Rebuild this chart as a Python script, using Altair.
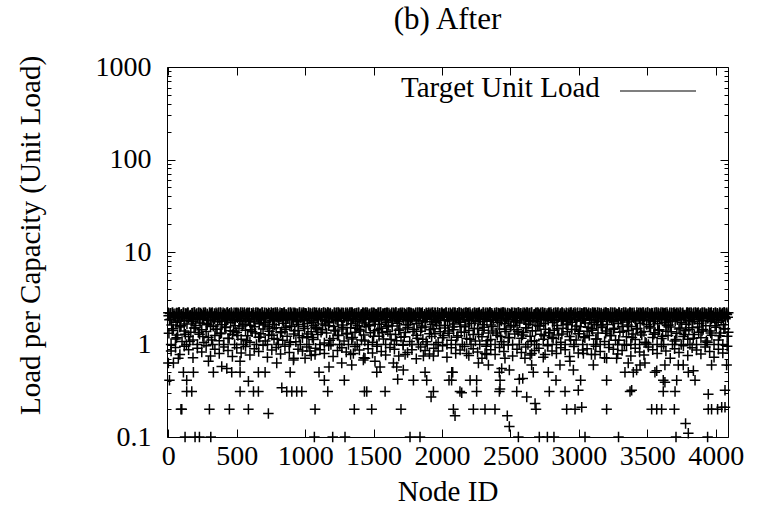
import altair as alt
import pandas as pd

FONT = "Liberation Serif"

# ---------------- data ----------------
# dense band of per-node loads just under the target (node id = 16*i)
band_top = [
    2.20, 2.18, 2.21, 2.15, 2.19, 2.22, 2.12, 2.20, 2.17, 2.21, 2.08, 2.19, 2.22, 2.16, 2.20, 2.13,
    2.21, 2.19, 2.05, 2.20, 2.22, 2.17, 2.14, 2.21, 2.19, 2.20, 2.10, 2.22, 2.18, 2.15, 2.21, 2.20,
    2.16, 2.22, 2.19, 2.11, 2.20, 2.21, 2.18, 2.07, 2.22, 2.19, 2.15, 2.20, 2.21, 2.13, 2.18, 2.22,
    2.19, 2.20, 2.14, 2.21, 2.17, 2.22, 2.09, 2.20, 2.19, 2.21, 2.16, 2.12, 2.22, 2.20, 2.18, 2.15,
    2.22, 2.17, 2.20, 2.19, 2.06, 2.21, 2.18, 2.22, 2.14, 2.20, 2.19, 2.11, 2.21, 2.22, 2.17, 2.20,
    2.18, 2.21, 2.13, 2.22, 2.20, 2.16, 2.19, 2.21, 2.08, 2.20, 2.22, 2.18, 2.15, 2.21, 2.19, 2.12,
    2.20, 2.22, 2.17, 2.19, 2.21, 2.10, 2.20, 2.18, 2.22, 2.16, 2.21, 2.19, 2.14, 2.20, 2.22, 2.18,
    2.15, 2.20, 2.21, 2.19, 2.22, 2.13, 2.18, 2.20, 2.21, 2.07, 2.19, 2.22, 2.17, 2.20, 2.16, 2.21,
    2.19, 2.12, 2.22, 2.20, 2.18, 2.21, 2.15, 2.19, 2.22, 2.20, 2.11, 2.17, 2.21, 2.19, 2.22, 2.14,
    2.21, 2.20, 2.16, 2.22, 2.09, 2.19, 2.21, 2.18, 2.20, 2.22, 2.15, 2.19, 2.13, 2.21, 2.20, 2.17,
    2.22, 2.18, 2.20, 2.14, 2.21, 2.19, 2.22, 2.10, 2.20, 2.17, 2.21, 2.22, 2.19, 2.16, 2.20, 2.12,
    2.19, 2.21, 2.22, 2.17, 2.20, 2.08, 2.18, 2.21, 2.22, 2.19, 2.14, 2.20, 2.21, 2.16, 2.22, 2.19,
    2.20, 2.15, 2.21, 2.19, 2.22, 2.18, 2.11, 2.20, 2.21, 2.17, 2.22, 2.19, 2.20, 2.13, 2.21, 2.18,
    2.22, 2.20, 2.17, 2.21, 2.19, 2.06, 2.22, 2.20, 2.16, 2.21, 2.19, 2.22, 2.15, 2.18, 2.20, 2.21,
    2.17, 2.22, 2.19, 2.20, 2.12, 2.21, 2.18, 2.22, 2.20, 2.15, 2.19, 2.21, 2.09, 2.22, 2.20, 2.18,
    2.21, 2.19, 2.22, 2.16, 2.20, 2.21, 2.14, 2.19, 2.22, 2.18, 2.20, 2.11, 2.21, 2.19, 2.22, 2.20,
]
# node id = 16*i + 12
band_top2 = [
    2.17, 2.21, 2.03, 2.19, 2.22, 2.10, 2.20, 2.15, 2.21, 1.98, 2.18, 2.22, 2.12, 2.20, 2.19, 2.06,
    2.22, 2.14, 2.20, 2.18, 2.01, 2.21, 2.19, 2.22, 2.09, 2.17, 2.20, 2.13, 2.22, 2.04, 2.19, 2.21,
    2.11, 2.20, 2.22, 2.16, 2.19, 2.02, 2.21, 2.18, 2.20, 2.14, 2.22, 1.97, 2.19, 2.21, 2.08, 2.17,
    2.20, 2.22, 2.05, 2.18, 2.21, 2.13, 2.19, 2.22, 2.00, 2.20, 2.16, 2.21, 2.10, 2.22, 2.18, 2.03,
    2.19, 2.12, 2.22, 2.20, 2.17, 2.07, 2.21, 2.19, 2.22, 2.15, 2.01, 2.20, 2.18, 2.22, 2.11, 2.21,
    2.04, 2.20, 2.19, 2.22, 2.13, 2.18, 2.21, 1.99, 2.20, 2.16, 2.22, 2.08, 2.19, 2.21, 2.14, 2.20,
    2.22, 2.06, 2.18, 2.21, 2.19, 2.12, 2.20, 2.22, 2.03, 2.17, 2.21, 2.19, 2.10, 2.22, 2.20, 2.15,
    2.09, 2.21, 2.22, 2.18, 2.02, 2.20, 2.19, 2.14, 2.22, 2.21, 2.07, 2.18, 2.20, 2.12, 2.22, 1.98,
    2.20, 2.17, 2.21, 2.05, 2.22, 2.19, 2.11, 2.20, 2.18, 2.22, 2.00, 2.21, 2.16, 2.19, 2.09, 2.22,
    2.13, 2.20, 2.22, 2.18, 2.04, 2.21, 2.19, 2.15, 2.22, 2.20, 2.08, 2.17, 2.21, 2.02, 2.19, 2.22,
    2.18, 2.10, 2.20, 2.22, 2.16, 2.21, 1.96, 2.19, 2.22, 2.13, 2.20, 2.18, 2.06, 2.21, 2.22, 2.11,
    2.21, 2.19, 2.04, 2.22, 2.17, 2.20, 2.14, 2.21, 2.09, 2.22, 2.19, 2.01, 2.18, 2.20, 2.22, 2.12,
    2.16, 2.22, 2.20, 2.08, 2.21, 2.19, 2.13, 2.22, 2.18, 2.03, 2.20, 2.21, 2.15, 2.22, 2.07, 2.19,
    2.20, 2.11, 2.22, 2.19, 2.21, 2.05, 2.18, 2.20, 2.22, 2.10, 2.21, 2.16, 2.19, 1.99, 2.22, 2.20,
    2.14, 2.21, 2.18, 2.22, 2.02, 2.20, 2.19, 2.12, 2.21, 2.22, 2.17, 2.06, 2.20, 2.19, 2.22, 2.13,
    2.22, 2.18, 2.09, 2.21, 2.20, 2.15, 2.22, 2.19, 2.03, 2.21, 2.18, 2.20, 2.11, 2.22, 2.16, 2.21,
]
# node id = 16*i + 2
band_fill = [
    2.05, 1.88, 2.12, 1.95, 1.80, 2.09, 1.99, 1.84, 2.14, 1.92, 2.02, 1.78, 2.07, 1.96, 1.86, 2.11,
    1.90, 2.04, 1.82, 2.13, 1.97, 1.87, 2.08, 1.93, 1.79, 2.10, 2.00, 1.85, 2.06, 1.94, 1.81, 2.12,
    1.98, 1.83, 2.09, 1.91, 2.03, 1.77, 2.14, 1.89, 2.01, 1.95, 1.84, 2.07, 1.96, 2.11, 1.80, 2.04,
    1.87, 2.13, 1.93, 2.00, 1.82, 2.08, 1.97, 1.90, 2.12, 1.85, 2.05, 1.79, 1.99, 2.10, 1.88, 2.02,
    2.09, 1.94, 1.81, 2.06, 1.92, 2.14, 1.86, 2.01, 1.98, 1.78, 2.11, 1.95, 2.04, 1.83, 2.08, 1.91,
    1.96, 2.12, 1.84, 2.03, 1.89, 2.07, 2.00, 1.80, 2.13, 1.93, 1.87, 2.10, 1.97, 2.05, 1.82, 2.09,
    1.90, 2.02, 2.14, 1.85, 1.99, 2.06, 1.79, 2.11, 1.94, 1.88, 2.04, 1.96, 2.12, 1.83, 2.01, 1.92,
    2.08, 1.86, 1.97, 2.13, 1.81, 2.05, 1.93, 2.10, 1.89, 2.00, 1.77, 2.07, 1.95, 2.14, 1.84, 2.03,
    1.98, 2.11, 1.87, 1.92, 2.06, 1.80, 2.12, 1.95, 2.02, 1.85, 2.09, 1.99, 1.82, 2.05, 1.91, 2.13,
    1.88, 2.00, 2.10, 1.83, 1.96, 2.07, 1.90, 2.14, 1.79, 2.04, 1.94, 1.86, 2.11, 1.98, 2.03, 1.81,
    2.12, 1.93, 2.01, 1.87, 2.08, 1.78, 1.97, 2.13, 1.92, 2.05, 1.84, 2.10, 1.89, 1.99, 2.06, 1.95,
    1.82, 2.09, 1.96, 2.14, 1.88, 2.02, 1.80, 2.07, 1.94, 2.11, 1.85, 2.00, 2.04, 1.91, 1.83, 2.12,
    2.03, 1.86, 2.10, 1.97, 1.79, 2.08, 1.93, 2.01, 1.88, 2.13, 1.95, 1.81, 2.06, 1.99, 2.11, 1.90,
    1.94, 2.05, 1.84, 2.12, 2.00, 1.87, 2.09, 1.92, 2.14, 1.82, 2.03, 1.96, 1.89, 2.07, 1.78, 2.10,
    2.01, 1.90, 2.13, 1.85, 2.06, 1.95, 1.80, 2.11, 1.98, 2.04, 1.86, 2.08, 1.93, 2.12, 1.83, 1.97,
    1.87, 2.09, 1.99, 2.02, 1.81, 2.14, 1.92, 2.05, 1.88, 1.96, 2.10, 1.84, 2.07, 1.94, 2.01, 2.11,
]
# node id = 16*i + 8
band_mid = [
    1.85, 1.62, 2.02, 1.74, 1.93, 1.58, 1.99, 1.81, 1.67, 2.05, 1.77, 1.90, 1.60, 1.96, 1.71, 1.88,
    2.08, 1.69, 1.83, 1.95, 1.57, 2.01, 1.76, 1.89, 1.64, 1.98, 1.80, 2.10, 1.72, 1.86, 1.59, 1.94,
    1.78, 2.03, 1.66, 1.91, 1.84, 1.61, 2.07, 1.75, 1.97, 1.68, 1.87, 2.00, 1.73, 1.56, 1.92, 1.82,
    1.63, 1.99, 1.79, 2.06, 1.70, 1.88, 1.95, 1.58, 1.84, 2.11, 1.76, 1.65, 1.93, 1.81, 2.04, 1.69,
    1.90, 1.74, 1.60, 2.02, 1.86, 1.97, 1.67, 1.83, 2.09, 1.72, 1.94, 1.57, 1.88, 1.79, 2.00, 1.62,
    1.96, 1.81, 2.05, 1.68, 1.91, 1.75, 1.59, 1.99, 1.85, 1.71, 2.08, 1.64, 1.92, 1.87, 1.77, 2.03,
    1.66, 1.89, 1.98, 1.73, 1.61, 2.01, 1.84, 1.95, 1.70, 1.78, 2.10, 1.86, 1.63, 1.93, 1.80, 1.97,
    2.04, 1.69, 1.82, 1.58, 1.94, 1.76, 2.07, 1.88, 1.65, 1.99, 1.72, 1.91, 1.83, 2.02, 1.60, 1.85,
    1.79, 2.06, 1.67, 1.92, 1.87, 1.74, 1.96, 1.56, 2.00, 1.81, 1.70, 1.95, 2.09, 1.77, 1.89, 1.64,
    1.93, 1.78, 2.03, 1.62, 1.86, 1.98, 1.73, 1.84, 2.11, 1.68, 1.90, 1.80, 1.59, 2.01, 1.75, 1.94,
    1.71, 1.97, 1.85, 2.05, 1.66, 1.82, 1.91, 1.77, 1.61, 2.08, 1.88, 1.69, 1.96, 1.83, 2.00, 1.73,
    1.87, 1.60, 1.99, 1.79, 1.93, 2.04, 1.67, 1.86, 1.74, 1.95, 1.58, 2.02, 1.81, 1.90, 1.71, 2.07,
    1.84, 1.96, 1.72, 1.63, 2.01, 1.89, 1.78, 2.09, 1.65, 1.92, 1.85, 1.76, 1.98, 1.69, 1.87, 1.82,
    2.06, 1.75, 1.90, 1.57, 1.94, 1.80, 2.03, 1.70, 1.88, 1.99, 1.64, 1.83, 2.10, 1.77, 1.91, 1.68,
    1.95, 1.86, 1.73, 2.00, 1.62, 1.89, 1.97, 1.79, 1.85, 2.05, 1.72, 1.93, 1.66, 1.81, 2.02, 1.76,
    1.88, 2.08, 1.69, 1.84, 1.96, 1.59, 1.92, 1.78, 2.04, 1.87, 1.74, 1.99, 1.83, 1.63, 1.90, 1.97,
]
# node id = 16*i + 4
band_low = [
    1.32, 1.00, 1.48, 1.15, 1.27, 1.55, 1.08, 1.40, 1.00, 1.22, 1.36, 1.12, 1.51, 1.00, 1.29, 1.44,
    1.05, 1.38, 1.19, 1.58, 1.00, 1.25, 1.46, 1.10, 1.33, 1.00, 1.53, 1.17, 1.41, 1.28, 1.00, 1.35,
    1.50, 1.14, 1.00, 1.43, 1.24, 1.06, 1.37, 1.56, 1.00, 1.20, 1.31, 1.47, 1.09, 1.00, 1.39, 1.26,
    1.16, 1.52, 1.00, 1.34, 1.11, 1.45, 1.23, 1.00, 1.57, 1.30, 1.07, 1.42, 1.00, 1.18, 1.49, 1.21,
    1.00, 1.37, 1.13, 1.54, 1.28, 1.00, 1.44, 1.04, 1.33, 1.59, 1.00, 1.16, 1.40, 1.25, 1.00, 1.47,
    1.09, 1.30, 1.00, 1.52, 1.19, 1.36, 1.00, 1.45, 1.12, 1.27, 1.56, 1.00, 1.34, 1.06, 1.41, 1.00,
    1.23, 1.50, 1.15, 1.00, 1.38, 1.29, 1.58, 1.00, 1.10, 1.43, 1.20, 1.00, 1.35, 1.53, 1.08, 1.00,
    1.46, 1.26, 1.00, 1.39, 1.14, 1.55, 1.00, 1.31, 1.22, 1.48, 1.00, 1.05, 1.37, 1.18, 1.51, 1.00,
    1.32, 1.11, 1.44, 1.00, 1.24, 1.57, 1.00, 1.36, 1.16, 1.42, 1.00, 1.28, 1.09, 1.49, 1.00, 1.21,
    1.54, 1.00, 1.33, 1.13, 1.40, 1.00, 1.26, 1.47, 1.07, 1.00, 1.38, 1.19, 1.55, 1.00, 1.30, 1.44,
    1.00, 1.17, 1.35, 1.52, 1.00, 1.23, 1.41, 1.10, 1.00, 1.58, 1.29, 1.14, 1.46, 1.00, 1.34, 1.20,
    1.43, 1.00, 1.27, 1.06, 1.50, 1.00, 1.37, 1.22, 1.45, 1.00, 1.12, 1.31, 1.56, 1.00, 1.18, 1.39,
    1.25, 1.48, 1.00, 1.15, 1.33, 1.00, 1.53, 1.08, 1.40, 1.00, 1.24, 1.46, 1.11, 1.00, 1.36, 1.57,
    1.00, 1.21, 1.42, 1.00, 1.30, 1.13, 1.49, 1.00, 1.27, 1.38, 1.04, 1.00, 1.51, 1.19, 1.34, 1.00,
    1.44, 1.16, 1.00, 1.39, 1.25, 1.55, 1.00, 1.09, 1.32, 1.47, 1.00, 1.22, 1.41, 1.14, 1.00, 1.52,
    1.28, 1.00, 1.36, 1.18, 1.45, 1.00, 1.06, 1.40, 1.26, 1.00, 1.54, 1.12, 1.33, 1.00, 1.48, 1.23,
]
# node id = 32*i + 28
band_low2 = [
    1.42, 1.18, 1.60, 1.29, 1.08, 1.51, 1.35, 1.22, 1.63, 1.12, 1.46, 1.31, 1.55, 1.16, 1.39, 1.25,
    1.58, 1.10, 1.44, 1.33, 1.20, 1.62, 1.27, 1.49, 1.14, 1.37, 1.53, 1.06, 1.41, 1.24, 1.57, 1.30,
    1.19, 1.48, 1.36, 1.61, 1.11, 1.43, 1.26, 1.54, 1.32, 1.15, 1.50, 1.40, 1.09, 1.59, 1.23, 1.45,
    1.34, 1.56, 1.13, 1.28, 1.47, 1.21, 1.64, 1.38, 1.17, 1.52, 1.07, 1.44, 1.31, 1.60, 1.25, 1.40,
    1.55, 1.20, 1.36, 1.62, 1.14, 1.49, 1.28, 1.43, 1.10, 1.57, 1.33, 1.22, 1.46, 1.18, 1.61, 1.37,
    1.27, 1.52, 1.08, 1.41, 1.59, 1.24, 1.35, 1.16, 1.48, 1.30, 1.63, 1.12, 1.45, 1.39, 1.21, 1.54,
    1.43, 1.15, 1.58, 1.32, 1.26, 1.50, 1.11, 1.38, 1.62, 1.19, 1.47, 1.34, 1.06, 1.56, 1.29, 1.42,
    1.23, 1.60, 1.37, 1.13, 1.51, 1.28, 1.45, 1.17, 1.55, 1.40, 1.09, 1.33, 1.59, 1.24, 1.48, 1.36,
]
# node id = 32*i + 20
band_sub = [
    0.85, 0.93, 0.78, 0.96, 0.88, 0.72, 0.91, 0.83, 0.97, 0.75, 0.89, 0.80, 0.94, 0.86, 0.74, 0.92,
    0.81, 0.95, 0.77, 0.90, 0.84, 0.98, 0.73, 0.87, 0.93, 0.79, 0.96, 0.82, 0.71, 0.89, 0.85, 0.94,
    0.76, 0.91, 0.88, 0.80, 0.97, 0.74, 0.86, 0.92, 0.83, 0.78, 0.95, 0.87, 0.72, 0.90, 0.81, 0.96,
    0.84, 0.77, 0.93, 0.89, 0.75, 0.98, 0.82, 0.88, 0.70, 0.94, 0.86, 0.79, 0.91, 0.85, 0.97, 0.73,
    0.92, 0.80, 0.87, 0.95, 0.76, 0.90, 0.83, 0.71, 0.96, 0.88, 0.78, 0.93, 0.84, 0.99, 0.75, 0.89,
    0.82, 0.94, 0.77, 0.86, 0.91, 0.73, 0.97, 0.85, 0.80, 0.92, 0.88, 0.74, 0.95, 0.81, 0.87, 0.90,
    0.78, 0.96, 0.84, 0.72, 0.93, 0.89, 0.79, 0.86, 0.98, 0.75, 0.91, 0.83, 0.77, 0.94, 0.88, 0.80,
    0.95, 0.85, 0.71, 0.90, 0.82, 0.97, 0.76, 0.92, 0.87, 0.79, 0.94, 0.84, 0.73, 0.89, 0.81, 0.96,
]
# scattered under-loaded nodes: (node id, load)
sparse = [
    (0, 0.63), (8, 0.41), (37, 0.63), (73, 0.71), (110, 0.5), (183, 0.5), (134, 0.41), (134, 0.31),
    (171, 0.31), (92, 0.2), (98, 0.2), (300, 0.2), (293, 0.66), (329, 0.5), (390, 0.58), (427, 0.55),
    (463, 0.5), (524, 0.5), (524, 0.66), (524, 0.31), (446, 0.2), (585, 0.2), (585, 0.4), (622, 0.31),
    (658, 0.31), (658, 0.5), (707, 0.5), (731, 0.18), (792, 0.63), (829, 0.34), (865, 0.31), (902, 0.31),
    (938, 0.31), (975, 0.31), (890, 0.5), (914, 0.68), (999, 0.71),
    (1072, 0.2), (1359, 0.2), (1486, 0.2), (1700, 0.2), (2083, 0.2), (1165, 0.31), (1433, 0.31),
    (1450, 0.31), (1584, 0.31), (1937, 0.31), (1920, 0.27), (1140, 0.41), (1286, 0.41), (1676, 0.42),
    (1791, 0.41), (1888, 0.41), (2051, 0.41), (1101, 0.5), (1174, 0.57), (1267, 0.63), (1340, 0.6),
    (1425, 0.68), (1510, 0.66), (1523, 0.5), (1547, 0.57), (1645, 0.63), (1669, 0.57), (1717, 0.53),
    (1730, 0.78), (1876, 0.5), (1864, 0.75), (1937, 0.75), (2071, 0.5), (1035, 0.85), (1072, 0.78),
    (1352, 0.8), (1437, 0.71),
    (2095, 0.17), (2229, 0.2), (2314, 0.2), (2387, 0.2), (2477, 0.17), (2492, 0.13), (2687, 0.2),
    (2680, 0.23), (2619, 0.27), (2911, 0.2), (2972, 0.2), (3021, 0.21), (2131, 0.31), (2144, 0.3),
    (2253, 0.31), (2419, 0.31), (2424, 0.33), (2546, 0.31), (2784, 0.31), (2899, 0.31), (2996, 0.32),
    (2078, 0.5), (2070, 0.41), (2205, 0.41), (2253, 0.41), (2424, 0.41), (2419, 0.5), (2565, 0.42),
    (2590, 0.43), (2833, 0.41), (3013, 0.41), (2266, 0.63), (2339, 0.6), (2436, 0.55), (2492, 0.53),
    (2667, 0.5), (2655, 0.6), (2777, 0.5), (2862, 0.6), (2935, 0.66), (2960, 0.53), (3106, 0.6),
    (2180, 0.8), (2314, 0.8), (2326, 0.78), (2460, 0.71), (2606, 0.71), (2655, 0.8), (2753, 0.78),
    (3033, 0.8), (3118, 0.78),
    (3203, 0.2), (3532, 0.2), (3569, 0.2), (3605, 0.2), (3698, 0.2), (3946, 0.2), (3970, 0.2),
    (4014, 0.2), (4044, 0.21), (4068, 0.21), (3780, 0.14), (3800, 0.11), (3374, 0.31), (3386, 0.32),
    (3617, 0.31), (3703, 0.31), (3946, 0.29), (4068, 0.32), (3203, 0.41), (3617, 0.41), (3629, 0.39),
    (3715, 0.41), (3849, 0.41), (3337, 0.5), (3398, 0.5), (3422, 0.53), (3556, 0.5), (3569, 0.52),
    (3800, 0.5), (3837, 0.52), (3203, 0.71), (3276, 0.71), (3361, 0.63), (3447, 0.6), (3483, 0.63),
    (3629, 0.6), (3727, 0.6), (3763, 0.6), (3970, 0.6), (4080, 0.6),
]
# nodes sitting on the 0.1 floor of the plot
floor_nodes = [122, 195, 227, 310, 1067, 1201, 1291, 1766, 1839, 2558, 2711, 2770, 2818, 3045,
               3290, 3710, 3941]
floor_load = 0.1

target_load = 2.2
target_name = "Target Unit Load"

x_ticks = [0, 500, 1000, 1500, 2000, 2500, 3000, 3500, 4000]
y_major = [0.1, 1, 10, 100, 1000]
y_minor = [0.2, 0.3, 0.4, 0.5, 0.6, 0.7, 0.8, 0.9,
           2, 3, 4, 5, 6, 7, 8, 9,
           20, 30, 40, 50, 60, 70, 80, 90,
           200, 300, 400, 500, 600, 700, 800, 900]

# ---------------- table ----------------
rows = []
rows += [(16 * i, v) for i, v in enumerate(band_top)]
rows += [(16 * i + 12, v) for i, v in enumerate(band_top2)]
rows += [(16 * i + 2, v) for i, v in enumerate(band_fill)]
rows += [(16 * i + 8, v) for i, v in enumerate(band_mid)]
rows += [(16 * i + 4, v) for i, v in enumerate(band_low)]
rows += [(32 * i + 28, v) for i, v in enumerate(band_low2)]
rows += [(32 * i + 20, v) for i, v in enumerate(band_sub)]
rows += sparse
rows += [(n, floor_load) for n in floor_nodes]
df = pd.DataFrame(rows, columns=["node", "load"])
target_df = pd.DataFrame({"load": [target_load], "series": [target_name]})

# ---------------- chart ----------------
xscale = alt.Scale(domain=[-10, 4090], nice=False, zero=False)
yscale = alt.Scale(type="log", domain=[0.1, 1000], nice=False)
PLUS = "M-1,0L1,0M0,-1L0,1"
LBL = 28
TTL = 29

label_x_axis = alt.Axis(
    orient="bottom", values=x_ticks, format="d", ticks=False, tickSize=0, domain=False, grid=False,
    labelFont=FONT, labelFontSize=LBL, labelColor="black", labelPadding=5,
    labelFlush=False, labelOverlap=False,
    title="Node ID", titleFont=FONT, titleFontSize=TTL, titleFontWeight="normal",
    titleColor="black", titleY=63, titleBaseline="alphabetic",
)
label_y_axis = alt.Axis(
    orient="left", values=y_major, format="~g", ticks=False, tickSize=0, domain=False, grid=False,
    labelFont=FONT, labelFontSize=LBL, labelColor="black", labelPadding=16,
    labelOverlap=False, labelFlush=False,
    title="Load per Capacity (Unit Load)", titleFont=FONT, titleFontSize=TTL,
    titleFontWeight="normal", titleColor="black", titleX=-137, titleY=168,
    titleAngle=270, titleAlign="center", titleBaseline="middle",
)

points = alt.Chart(df).mark_point(
    shape=PLUS, size=110, filled=False, color="black", strokeWidth=1.5, opacity=1
).encode(
    x=alt.X("node:Q", scale=xscale, axis=label_x_axis),
    y=alt.Y("load:Q", scale=yscale, axis=label_y_axis),
)


def tick_axis(orient, values, size):
    return alt.Axis(
        orient=orient, values=values, labels=False, domain=False, grid=False,
        ticks=True, tickSize=size, offset=-size, tickColor="black", tickWidth=1,
    )


def ghost(x_axis, y_axis):
    if x_axis is None:
        xenc = alt.X("node:Q", scale=xscale, axis=None)
    else:
        xenc = alt.X("node:Q", scale=xscale, axis=x_axis, title=None)
    return alt.Chart(df).mark_point(opacity=0).encode(
        x=xenc,
        y=alt.Y("load:Q", scale=yscale, axis=y_axis, title=None),
    )


ticks_bl = ghost(tick_axis("bottom", x_ticks, 8), tick_axis("left", y_major, 8))
ticks_tr = ghost(tick_axis("top", x_ticks, 8), tick_axis("right", y_major, 8))
minor_l = ghost(None, tick_axis("left", y_minor, 4))
minor_r = ghost(None, tick_axis("right", y_minor, 4))

target = alt.Chart(target_df).mark_rule(strokeWidth=1.2).encode(
    y=alt.Y("load:Q", scale=yscale, axis=None),
    color=alt.Color(
        "series:N",
        scale=alt.Scale(range=["black"]),
        legend=alt.Legend(
            orient="none", legendX=234, legendY=-15, padding=0,
            title=target_name, titleOrient="left", titleFont=FONT, titleLimit=400,
            titleFontSize=TTL, titleFontWeight="normal", titleColor="black", titlePadding=19,
            titleBaseline="top",
            labelExpr="''", labelOffset=0,
            symbolType="stroke", symbolSize=5776, symbolStrokeWidth=1.2,
        ),
    ),
)

chart = alt.layer(points, target, ticks_bl, ticks_tr, minor_l, minor_r).resolve_axis(
    x="independent", y="independent"
).properties(
    width=561,
    height=370,
    autosize=alt.AutoSizeParams(type="none"),
    padding={"left": 167, "top": 67, "right": 33, "bottom": 81},
    title=alt.Title(
        "(b) After", font=FONT, fontSize=31, fontWeight="normal", color="black",
        anchor="middle", offset=16,
    ),
    background="white",
).configure_view(
    stroke="black", strokeWidth=1
)

chart.save("out.html", embed_options={"renderer": "svg", "actions": False})
